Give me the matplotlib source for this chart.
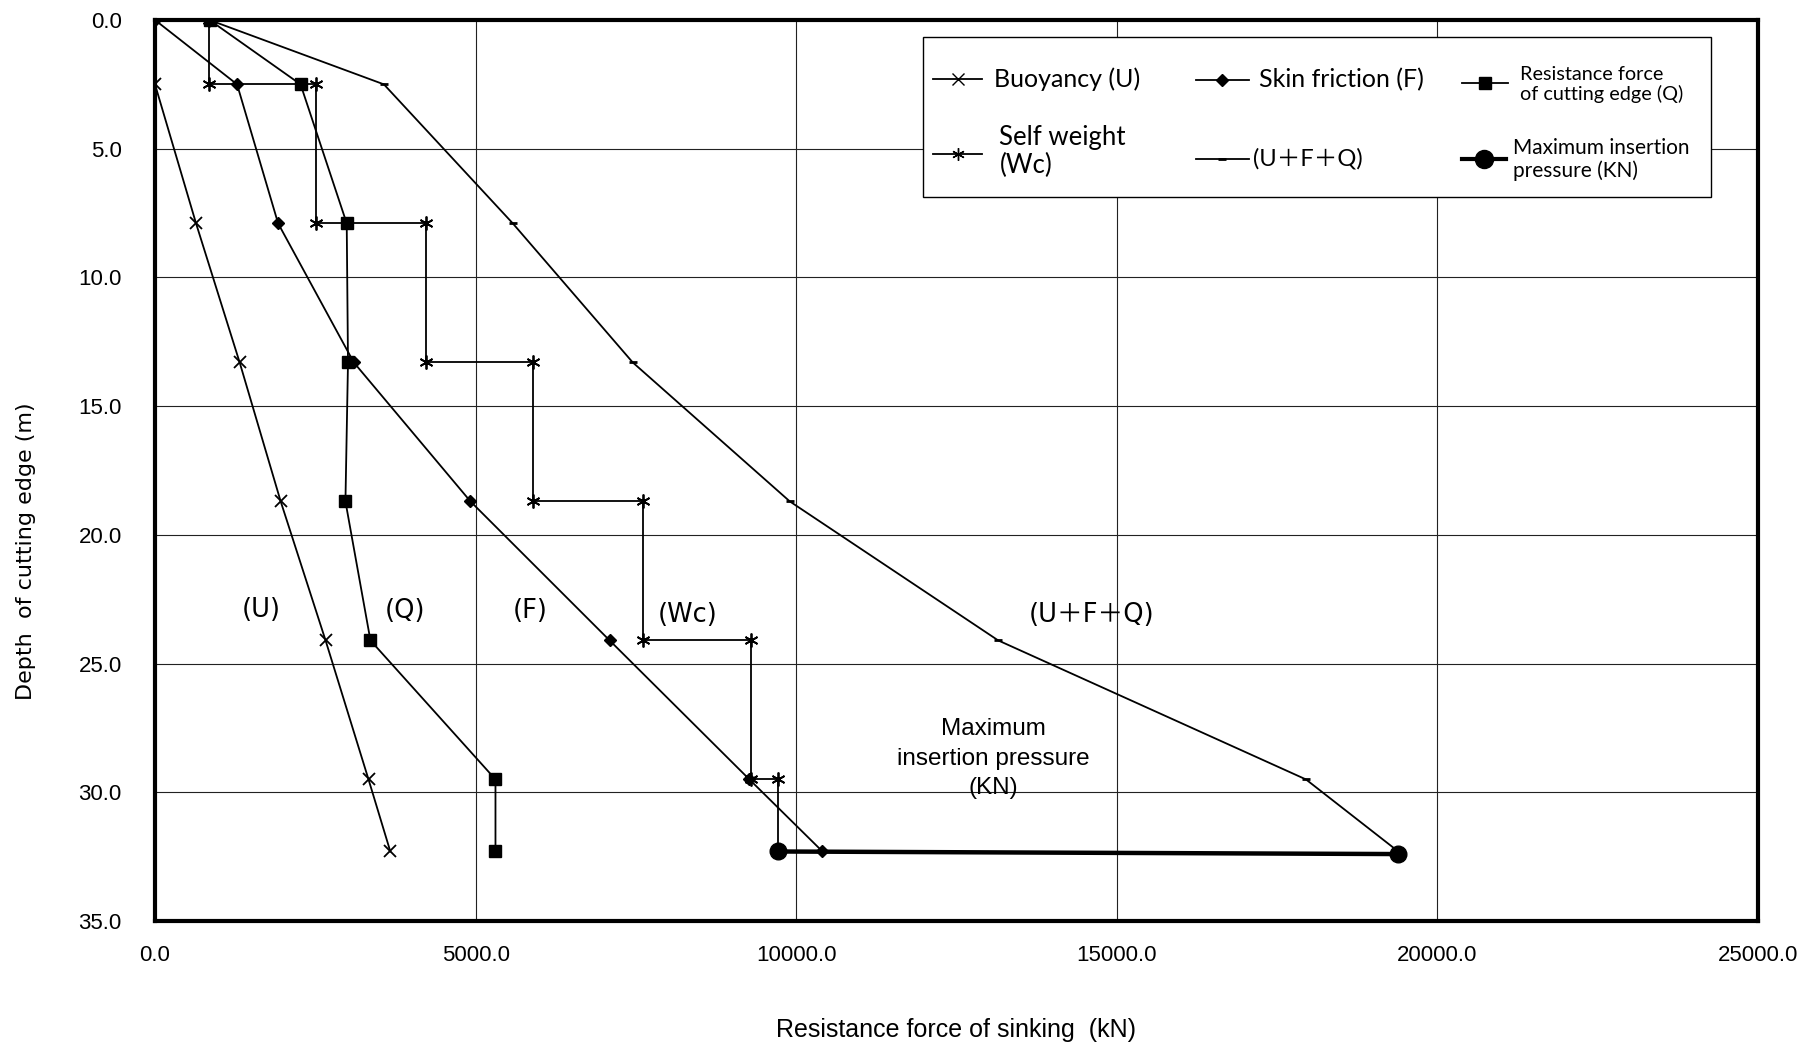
import numpy as np
import matplotlib
matplotlib.use("Agg")
import matplotlib.pyplot as plt
from matplotlib.lines import Line2D
from matplotlib.patches import Rectangle
from matplotlib.ticker import FormatStrFormatter, MultipleLocator

# depth of cutting edge (m)
depth = [0.0, 2.5, 7.9, 13.3, 18.7, 24.1, 29.5, 32.3]

# resistance force values (kN)
buoyancy = [0, 640, 1320, 1960, 2660, 3330, 3670]  # starts at 2.5 m
skin_friction = [0, 1280, 1920, 3100, 4920, 7090, 9270, 10410]
cutting_edge = [850, 2270, 2990, 3010, 2970, 3360, 5310, 5310]
self_weight = [840, 2510, 4230, 5900, 7610, 9290, 9720]
total_ufq = [850, 3570, 5580, 7450, 9900, 13150, 17950, 19390]
max_pressure = [9720, 19390]
max_depth = [32.3, 32.4]

arial = ["Liberation Sans", "DejaVu Sans"]
gothic = ["DejaVu Sans", "Noto Sans CJK JP"]
calibri = ["Lato", "Noto Sans CJK JP", "DejaVu Sans"]

W, H = 1816, 1043
fig = plt.figure(figsize=(W / 100, H / 100), dpi=100)
ax = fig.add_axes([155 / W, 122 / H, 1603 / W, 901 / H])

# self weight is drawn as a staircase between depth levels
d = np.array(depth)
sw_x = np.repeat(self_weight, 2)
sw_y = np.repeat(d, 2)[1:-1]

lw = 1.3
ax.plot(buoyancy, depth[1:], color="black", lw=lw, marker="x", ms=9, mew=1.3)
ax.plot(sw_x, sw_y, color="black", lw=lw, marker=(6, 2, 0), ms=10, mew=1.3)
ax.plot(skin_friction, depth, color="black", lw=lw, marker="D", ms=6)
ax.plot(total_ufq, depth, color="black", lw=lw, marker="_", ms=6, mew=2)
ax.plot(cutting_edge, depth, color="black", lw=lw, marker="s", ms=9)
ax.plot(max_pressure, max_depth, color="black", lw=3.2, marker="o", ms=12)

ax.set_xlim(0, 25000)
ax.set_ylim(35, 0)
ax.xaxis.set_major_locator(MultipleLocator(5000))
ax.yaxis.set_major_locator(MultipleLocator(5))
ax.xaxis.set_major_formatter(FormatStrFormatter("%.1f"))
ax.yaxis.set_major_formatter(FormatStrFormatter("%.1f"))
ax.tick_params(length=0, labelsize=16, pad=17)
ax.tick_params(axis="y", pad=24)
for lab in ax.get_xticklabels() + ax.get_yticklabels():
    lab.set_family(arial)
ax.grid(True, color="#222222", lw=0.8)
ax.set_axisbelow(True)
for sp in ax.spines.values():
    sp.set_linewidth(3)

ax.set_xlabel("Resistance force of sinking  (kN)", family=arial, fontsize=18, labelpad=38)
ax.set_ylabel("Depth  of cutting edge (m)", family=gothic, fontsize=16)
ax.yaxis.set_label_coords(-0.074, 0.41)

# region labels
lab_kw = dict(family=gothic, fontsize=18.5, ha="center", va="center")
ax.text(1650, 22.9, "(U)", **lab_kw)
ax.text(3900, 22.95, "(Q)", **lab_kw)
ax.text(5850, 22.95, "(F)", **lab_kw)
ax.text(8300, 23.1, "(Wc)", **lab_kw)
ax.text(14600, 23.1, "(U＋F＋Q)", **lab_kw)
ax.text(13080, 28.7, "Maximum\ninsertion pressure\n(KN)", family=arial, fontsize=17.5,
        ha="center", va="center", linespacing=1.45)


# legend drawn by hand so that its layout follows the original
def fx(px):
    return (px * W / 1568 - 155) / 1603


def fy(py):
    return (921 - py * H / 901) / 901


ax.add_patch(Rectangle((fx(797), fy(170)), fx(1477) - fx(797), fy(32) - fy(170),
                       transform=ax.transAxes, facecolor="white", edgecolor="black",
                       lw=1.0, zorder=5))

entries = [
    # handle x0, x1, y, style, label, text x, text y, font size
    (806, 848, 68, dict(marker="x", ms=8), "Buoyancy (U)", 858, 68, 18),
    (806, 848, 133, dict(marker=(6, 2, 0), ms=9), "Self weight\n(Wc)", 863, 131, 18.5),
    (1033, 1078, 69, dict(marker="D", ms=6), "Skin friction (F)", 1087, 69, 18),
    (1033, 1078, 137, dict(marker="_", ms=6, mew=2), "(U＋F＋Q)", 1082, 137, 17),
    (1262, 1302, 72, dict(marker="s", ms=9), "Resistance force\nof cutting edge (Q)", 1312, 73, 14.3),
    (1262, 1300, 137, dict(marker="o", ms=13, lw=3), "Maximum insertion\npressure (KN)", 1306, 138, 15),
]
for x0, x1, y, style, text, tx, ty, size in entries:
    style = dict(style)
    lwid = style.pop("lw", lw)
    ax.add_line(Line2D([fx(x0), fx((x0 + x1) / 2), fx(x1)], [fy(y)] * 3,
                       transform=ax.transAxes, color="black", lw=lwid,
                       markevery=[1], zorder=6, **style))
    ax.text(fx(tx), fy(ty), text, transform=ax.transAxes, family=calibri,
            fontsize=size, ha="left", va="center", linespacing=1.15, zorder=6)

fig.savefig("out.png", dpi=100)
